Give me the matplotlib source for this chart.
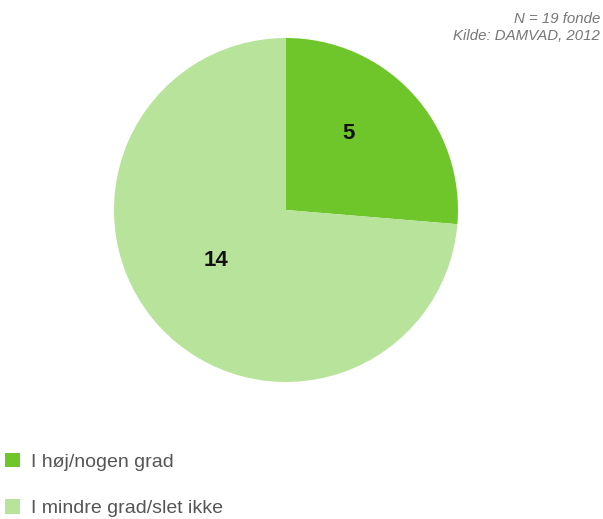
import numpy as np
import matplotlib.pyplot as plt

# Data
labels = ['I høj/nogen grad', 'I mindre grad/slet ikke']
values = [5, 14]
colors = ['#6ec62a', '#b8e39a']

fig = plt.figure(figsize=(6.03, 5.19), dpi=100)
ax = fig.add_axes([0.189, 0.264, 0.5705, 0.6628])

wedges, texts = ax.pie(values, colors=colors, startangle=90, counterclock=False,
                       wedgeprops=dict(linewidth=0))

# value labels inside the wedges (small angle/radius tweaks to match the original)
label_shift = [8, -7]
label_dist = [0.575, 0.50]
for w, v, sh, d in zip(wedges, values, label_shift, label_dist):
    ang = np.deg2rad((w.theta1 + w.theta2) / 2 + sh)
    ax.text(d * np.cos(ang), d * np.sin(ang), str(v), ha='center', va='center',
            fontsize=16, fontweight='bold', color='#111111', family='Liberation Sans')
ax.set_xlim(-1, 1)
ax.set_ylim(-1, 1)
ax.set_aspect('equal')

# Note in top right corner
fig.text(0.995, 0.977, 'N = 19 fonde\nKilde: DAMVAD, 2012', ha='right', va='top',
         fontsize=10.8, style='italic', color='#777777', linespacing=1.3,
         family='Liberation Sans')

# Legend
leg = fig.legend(wedges, labels, loc='upper left', bbox_to_anchor=(0.008, 0.128),
                 frameon=False, borderpad=0, borderaxespad=0,
                 handlelength=0.8, handleheight=0.8,
                 handletextpad=0.55, labelspacing=1.45,
                 prop=dict(family='Liberation Sans', size=14))
for t in leg.get_texts():
    t.set_color('#555555')

fig.savefig('out.png', dpi=100)
